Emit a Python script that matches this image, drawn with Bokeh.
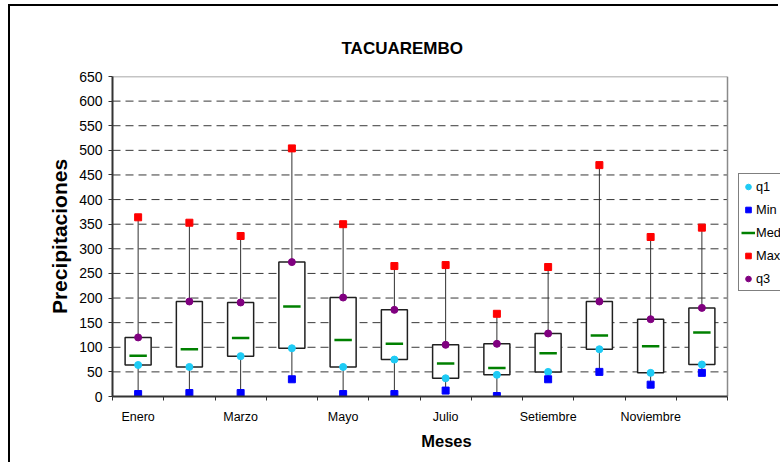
from bokeh.embed import file_html
from bokeh.models import (ColumnDataSource, FixedTicker, Legend, LegendItem,
                          Range1d)
from bokeh.plotting import figure
from bokeh.resources import INLINE

# Monthly precipitation summary, Tacuarembó
meses = ["Enero", "Febrero", "Marzo", "Abril", "Mayo", "Junio", "Julio",
         "Agosto", "Setiembre", "Octubre", "Noviembre", "Diciembre"]
minimo = [5, 7, 7, 35, 5, 5, 12, 1, 35, 50, 24, 48]
q1 = [64, 60, 82, 98, 60, 75, 37, 44, 50, 96, 48, 65]
mediana = [83, 96, 119, 183, 115, 107, 67, 58, 88, 124, 102, 130]
q3 = [120, 193, 191, 273, 201, 176, 105, 107, 128, 193, 157, 180]
maximo = [364, 353, 326, 504, 350, 265, 267, 168, 263, 470, 324, 343]
y_ticks = list(range(0, 651, 50))
series_names = ["q1", "Min", "Med", "Max", "q3"]

FONT = "Liberation Sans"
BOX_HALF = 0.254
MED_HALF = 0.17

n = len(meses)
x = list(range(1, n + 1))
x_lo, x_hi = 0.5, n + 0.5
y_lo, y_hi = y_ticks[0], y_ticks[-1]

src = ColumnDataSource(dict(
    x=x,
    mn=minimo, q1=q1, med=mediana, q3=q3, mx=maximo,
    bl=[v - BOX_HALF for v in x], br=[v + BOX_HALF for v in x],
    ml=[v - MED_HALF for v in x], mr=[v + MED_HALF for v in x],
))

# plot area is 615 px wide for the months; the frame runs on to the right
# edge of the canvas so that the legend can sit beside the plot area
PLOT_W = 615
CANVAS_W = 770
LEFT = 102
extra = (CANVAS_W - LEFT - PLOT_W) * (x_hi - x_lo) / PLOT_W

# the chart area sits inside a thin black frame drawn by CSS
p = figure(width=CANVAS_W, height=458, output_backend="svg",
           toolbar_location=None,
           x_range=Range1d(x_lo, x_hi + extra), y_range=Range1d(y_lo, y_hi),
           min_border_left=LEFT, min_border_right=0,
           min_border_top=70, min_border_bottom=68,
           styles={"margin-left": "8px", "margin-top": "4px",
                   "border-left": "2px solid black",
                   "border-top": "2px solid black"})
p.background_fill_color = "white"
p.border_fill_color = "white"
p.outline_line_color = None

# dashed horizontal grid and the plot-area border
grid_y = y_ticks[1:-1]
p.segment(x0=[x_lo] * len(grid_y), x1=[x_hi] * len(grid_y), y0=grid_y,
          y1=grid_y, line_color="#383838", line_width=1, line_dash="8 5")
p.segment(x0=[x_lo, x_hi], x1=[x_hi, x_hi], y0=[y_hi, y_lo], y1=[y_hi, y_hi],
          line_color="#8a8a8a", line_width=1.5)

# whiskers, boxes, medians, then the point markers
p.segment(x0="x", y0="mn", x1="x", y1="mx", source=src,
          line_color="#303030", line_width=1)
p.quad(left="bl", right="br", bottom="q1", top="q3", source=src,
       fill_color="white", line_color="#202020", line_width=1.5)
r_med = p.segment(x0="ml", y0="med", x1="mr", y1="med", source=src,
                  line_color="#008000", line_width=2.5)
r_q1 = p.scatter("x", "q1", source=src, marker="circle", size=7,
                 fill_color="#1ECBF5", line_color="#1ECBF5")
r_min = p.scatter("x", "mn", source=src, marker="square", size=7,
                  fill_color="#0000FF", line_color="#0000FF")
r_max = p.scatter("x", "mx", source=src, marker="square", size=7,
                  fill_color="#FF0000", line_color="#FF0000")
r_q3 = p.scatter("x", "q3", source=src, marker="circle", size=7,
                 fill_color="#800080", line_color="#800080")

# title
p.title.text = "TACUAREMBO"
p.title.text_font = FONT
p.title.text_font_size = "17px"
p.title.text_font_style = "bold"
p.title.text_color = "black"
p.title.align = "left"
p.title.offset = 229
p.title.standoff = 37

# y axis
p.yaxis.ticker = FixedTicker(ticks=y_ticks)
p.yaxis.axis_label = "Precipitaciones"
p.yaxis.axis_label_text_font = FONT
p.yaxis.axis_label_text_font_size = "21px"
p.yaxis.axis_label_text_font_style = "bold"
p.yaxis.axis_label_text_color = "black"
p.yaxis.axis_label_standoff = 5
p.yaxis.major_label_text_font = FONT
p.yaxis.major_label_text_font_size = "14px"
p.yaxis.major_label_text_color = "black"
p.yaxis.axis_line_color = "#333333"
p.yaxis.axis_line_width = 2
p.yaxis.major_tick_line_color = "#333333"
p.yaxis.major_tick_out = 4
p.yaxis.major_tick_in = 0
p.yaxis.minor_tick_line_color = None
p.yaxis.major_label_standoff = 6

# x axis: labels on every other month, tick marks between months
label_ticks = x[::2]
p.xaxis.ticker = FixedTicker(ticks=label_ticks,
                             minor_ticks=[v - 0.5 for v in x] + [x_hi])
p.xaxis.bounds = (x_lo, x_hi)
p.xaxis.major_label_overrides = {t: meses[t - 1] for t in label_ticks}
p.xaxis.axis_label = "Meses"
p.xaxis.axis_label_text_font = FONT
p.xaxis.axis_label_text_font_size = "16.5px"
p.xaxis.axis_label_text_font_style = "bold"
p.xaxis.axis_label_text_color = "black"
p.xaxis.axis_label_standoff = 5
p.xaxis.major_label_text_font = FONT
p.xaxis.major_label_text_font_size = "12.5px"
p.xaxis.major_label_text_color = "black"
p.xaxis.axis_line_color = "#333333"
p.xaxis.axis_line_width = 2
p.xaxis.major_tick_line_color = None
p.xaxis.major_tick_out = 0
p.xaxis.major_tick_in = 0
p.xaxis.minor_tick_line_color = "#333333"
p.xaxis.minor_tick_out = 4
p.xaxis.minor_tick_in = 0
p.xaxis.major_label_standoff = 9

p.xgrid.grid_line_color = None
p.ygrid.grid_line_color = None

legend = Legend(items=[
    LegendItem(label=name, renderers=[r])
    for name, r in zip(series_names, [r_q1, r_min, r_med, r_max, r_q3])
], location=(626, 105))
legend.border_line_color = "black"
legend.border_line_width = 1
legend.background_fill_color = "white"
legend.background_fill_alpha = 1
legend.label_text_font = FONT
legend.label_text_font_size = "12.8px"
legend.label_text_color = "black"
legend.padding = 2
legend.spacing = 3
legend.margin = 0
legend.glyph_width = 14
legend.glyph_height = 15
legend.label_height = 20
legend.label_standoff = 1
p.add_layout(legend, "center")

open("out.html", "w").write(file_html(p, INLINE))
